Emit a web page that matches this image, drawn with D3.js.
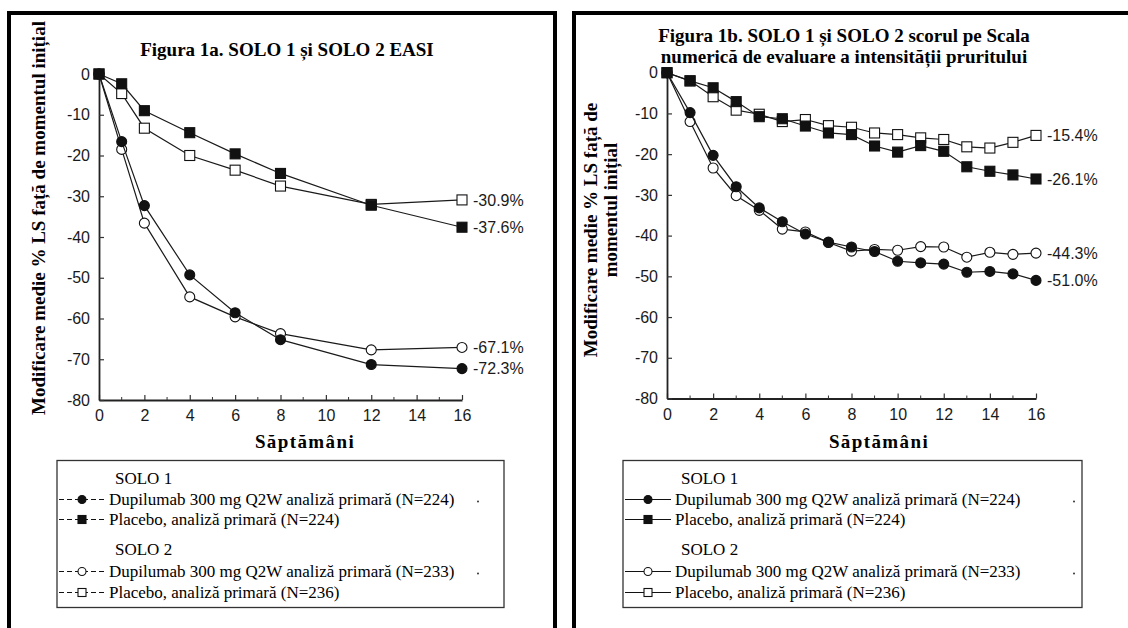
<!DOCTYPE html>
<html>
<head>
<meta charset="utf-8">
<script src="https://cdn.jsdelivr.net/npm/d3@7"></script>
<style>
body { margin: 0; background: #fff; }
svg { display: block; }
</style>
</head>
<body>
<script>
// Figura 1a - EASI, saptamani masurate
const weeks_easi = [0, 1, 2, 4, 6, 8, 12, 16];
const easi_solo1_dupi = [0, -16.6, -32.3, -49.3, -58.6, -65.2, -71.3, -72.3];
const easi_solo1_placebo = [0, -2.4, -9.0, -14.4, -19.6, -24.4, -32.2, -37.6];
const easi_solo2_dupi = [0, -18.5, -36.6, -54.7, -59.6, -63.7, -67.7, -67.1];
const easi_solo2_placebo = [0, -4.8, -13.3, -20.0, -23.6, -27.5, -32.0, -30.9];

// Figura 1b - prurit, fiecare saptamana
const weeks_nrs = [0, 1, 2, 3, 4, 5, 6, 7, 8, 9, 10, 11, 12, 13, 14, 15, 16];
const nrs_solo1_dupi = [0, -9.8, -20.3, -28.0, -33.2, -36.6, -39.6, -41.6, -42.8, -43.9, -46.3, -46.7, -47.0, -49.0, -48.8, -49.4, -51.0];
const nrs_solo1_placebo = [0, -2.0, -3.7, -7.1, -10.8, -11.3, -13.1, -14.8, -15.2, -18.0, -19.5, -17.9, -19.3, -23.1, -24.2, -25.1, -26.1];
const nrs_solo2_dupi = [0, -12.0, -23.4, -30.2, -33.8, -38.4, -39.1, -41.7, -43.8, -43.4, -43.6, -42.7, -42.8, -45.3, -44.1, -44.6, -44.3];
const nrs_solo2_placebo = [0, -2.0, -5.9, -9.2, -10.2, -12.0, -11.5, -13.0, -13.4, -14.8, -15.2, -16.0, -16.4, -18.2, -18.5, -17.1, -15.4];

const x_ticks = [0, 2, 4, 6, 8, 10, 12, 14, 16];
const x_minor = [1, 3, 5, 7, 9, 11, 13, 15];
const y_ticks = [0, -10, -20, -30, -40, -50, -60, -70, -80];

const legend_groups = ["SOLO 1", "SOLO 2"];
const legend_labels = [
	"Dupilumab 300 mg Q2W analiză primară (N=224)",
	"Placebo, analiză primară (N=224)",
	"Dupilumab 300 mg Q2W analiză primară (N=233)",
	"Placebo, analiză primară (N=236)"
];

const serif = "'Liberation Serif', 'Times New Roman', serif";
const sans = "'Liberation Sans', Arial, sans-serif";

var svg = d3.select("body").append("svg")
			.attr("width", 1128)
			.attr("height", 628);

// Rame groase ale celor doua figuri
svg.append("rect")
	.attr("x", 9).attr("y", 13)
	.attr("width", 546).attr("height", 650)
	.attr("fill", "none").attr("stroke", "#000").attr("stroke-width", 4);
svg.append("rect")
	.attr("x", 574).attr("y", 13)
	.attr("width", 600).attr("height", 650)
	.attr("fill", "none").attr("stroke", "#000").attr("stroke-width", 4);

// shape: 0 = cerc, 1 = patrat ; filled / open
function series_list(w, d1, p1, d2, p2) {
	return [
		{ weeks: w, values: p2, shape: 1, filled: false },
		{ weeks: w, values: p1, shape: 1, filled: true },
		{ weeks: w, values: d2, shape: 0, filled: false },
		{ weeks: w, values: d1, shape: 0, filled: true }
	];
}

function draw_marker(g, shape, filled, cx, cy, r) {
	if (shape == 0) {
		g.append("circle")
			.attr("cx", cx).attr("cy", cy).attr("r", r)
			.attr("fill", filled ? "#111" : "#fff")
			.attr("stroke", "#111").attr("stroke-width", 1.1);
	} else {
		g.append("rect")
			.attr("x", cx - r).attr("y", cy - r)
			.attr("width", 2 * r).attr("height", 2 * r)
			.attr("fill", filled ? "#111" : "#fff")
			.attr("stroke", "#111").attr("stroke-width", 1.1);
	}
}

function draw_panel(p) {
	var x = d3.scaleLinear().domain([0, 16]).range([p.x0, p.x1]);
	var y = d3.scaleLinear().domain([0, -80]).range([p.y0, p.y1]);

	var g = svg.append("g");

	var x_axis = g.append("g")
		.attr("transform", "translate(0," + p.y1 + ")")
		.call(d3.axisBottom(x)
			.tickValues(x_ticks)
			.tickSizeInner(-5)
			.tickSizeOuter(0)
			.tickPadding(10)
			.tickFormat(function(d) { return String(d); }));
	var y_axis = g.append("g")
		.attr("transform", "translate(" + p.x0 + ",0)")
		.call(d3.axisLeft(y)
			.tickValues(y_ticks)
			.tickSizeInner(-5)
			.tickSizeOuter(0)
			.tickPadding(9)
			.tickFormat(function(d) { return String(d); }));

	[x_axis, y_axis].forEach(function(a) {
		a.attr("font-family", sans).attr("font-size", 16);
		a.selectAll("text").attr("fill", "#1a1a1a");
		a.select(".domain").attr("stroke", "#222").attr("stroke-width", 1.8);
		a.selectAll(".tick line").attr("stroke", "#333").attr("stroke-width", 1.2);
	});

	// liniute mici intre saptamanile pare
	g.selectAll(".minor")
		.data(x_minor)
		.enter()
		.append("line")
		.attr("x1", function(d) { return x(d); })
		.attr("x2", function(d) { return x(d); })
		.attr("y1", p.y1)
		.attr("y2", p.y1 - 3)
		.attr("stroke", "#333");

	var line = d3.line()
		.x(function(d) { return x(d[0]); })
		.y(function(d) { return y(d[1]); });

	p.series.forEach(function(s) {
		var pts = s.weeks.map(function(w, i) { return [w, s.values[i]]; });
		g.append("path")
			.attr("d", line(pts))
			.attr("fill", "none")
			.attr("stroke", "#1a1a1a")
			.attr("stroke-width", 1.2);
		pts.forEach(function(d) {
			draw_marker(g, s.shape, s.filled, x(d[0]), y(d[1]), 5);
		});
		var last = s.values[s.values.length - 1];
		g.append("text")
			.attr("x", x(16) + 11)
			.attr("y", y(last))
			.attr("dy", "0.36em")
			.attr("font-family", sans)
			.attr("font-size", 16)
			.attr("fill", "#1a1a1a")
			.text(last.toFixed(1) + "%");
	});

	// titlu
	p.title.forEach(function(t, i) {
		g.append("text")
			.attr("x", p.title_x)
			.attr("y", p.title_y + i * 21)
			.attr("text-anchor", "middle")
			.attr("font-family", serif)
			.attr("font-weight", "bold")
			.attr("font-size", 19)
			.text(t);
	});

	// eticheta axei y, rotita
	p.ylabel.forEach(function(t, i) {
		g.append("text")
			.attr("transform", "translate(" + p.ylabel_x[i] + "," + p.ylabel_y[i] + ") rotate(-90)")
			.attr("text-anchor", "middle")
			.attr("font-family", serif)
			.attr("font-weight", "bold")
			.attr("font-size", 19)
			.text(t);
	});

	g.append("text")
		.attr("x", p.xlabel_x)
		.attr("y", 448)
		.attr("text-anchor", "middle")
		.attr("font-family", serif)
		.attr("font-weight", "bold")
		.attr("font-size", 19)
		.attr("letter-spacing", 1.4)
		.text("Săptămâni");

	// legenda
	var lg = svg.append("g");
	lg.append("rect")
		.attr("x", p.leg_x).attr("y", 460.5)
		.attr("width", p.leg_w).attr("height", 147)
		.attr("fill", "none").attr("stroke", "#333").attr("stroke-width", 1.3);

	legend_groups.forEach(function(t, i) {
		lg.append("text")
			.attr("x", p.leg_x + 58)
			.attr("y", 484 + i * 71)
			.attr("font-family", serif)
			.attr("font-size", 17)
			.text(t);
	});
	var row_y = [505, 525, 577, 598];
	var leg_series = [p.series[3], p.series[1], p.series[2], p.series[0]];
	legend_labels.forEach(function(t, i) {
		var cy = row_y[i] - 5.5;
		lg.append("line")
			.attr("x1", p.leg_x + 2).attr("x2", p.leg_x + 48)
			.attr("y1", cy).attr("y2", cy)
			.attr("stroke", "#111").attr("stroke-width", 1.2)
			.attr("stroke-dasharray", p.dashed ? "5,3" : null);
		draw_marker(lg, leg_series[i].shape, leg_series[i].filled, p.leg_x + 25, cy, 4);
		lg.append("text")
			.attr("x", p.leg_x + 52)
			.attr("y", row_y[i])
			.attr("font-family", serif)
			.attr("font-size", 17)
			.text(t);
		if (i == 0 || i == 2) {
			lg.append("circle")
				.attr("cx", p.dot_x).attr("cy", cy + 2).attr("r", 1)
				.attr("fill", "#333");
		}
	});
}

draw_panel({
	x0: 99, x1: 462, y0: 74, y1: 400,
	series: series_list(weeks_easi, easi_solo1_dupi, easi_solo1_placebo, easi_solo2_dupi, easi_solo2_placebo),
	title: ["Figura 1a. SOLO 1 și SOLO 2 EASI"],
	title_x: 287, title_y: 56,
	ylabel: ["Modificare medie % LS față de momentul inițial"],
	ylabel_x: [45], ylabel_y: [218],
	xlabel_x: 305,
	leg_x: 57, leg_w: 447, dashed: true, dot_x: 478
});

draw_panel({
	x0: 667, x1: 1036, y0: 72.7, y1: 398.5,
	series: series_list(weeks_nrs, nrs_solo1_dupi, nrs_solo1_placebo, nrs_solo2_dupi, nrs_solo2_placebo),
	title: ["Figura 1b. SOLO 1 și SOLO 2 scorul pe Scala", "numerică de evaluare a intensității pruritului"],
	title_x: 844, title_y: 42,
	ylabel: ["Modificare medie % LS față de", "momentul inițial"],
	ylabel_x: [597, 617], ylabel_y: [230, 210],
	xlabel_x: 879,
	leg_x: 623, leg_w: 459, dashed: false, dot_x: 1074
});
</script>
</body>
</html>
